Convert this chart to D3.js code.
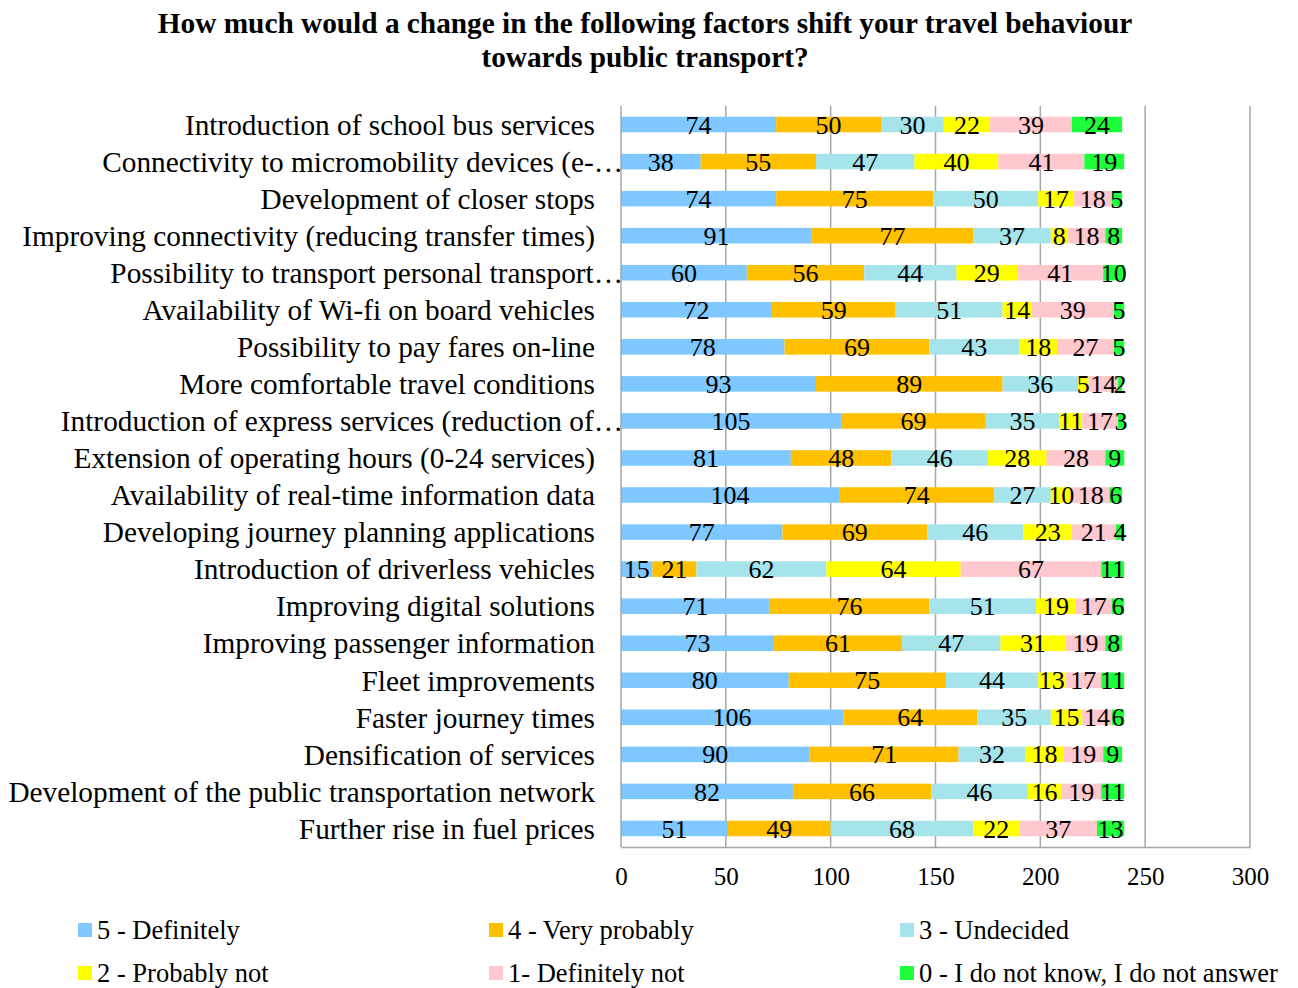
<!DOCTYPE html>
<html>
<head>
<meta charset="utf-8">
<script src="https://cdn.jsdelivr.net/npm/d3@7"></script>
<style>
  body { margin: 0; background: #fff; }
  text { font-family: "Liberation Serif", "Times New Roman", serif; }
</style>
</head>
<body>
<svg id="chart" width="1298" height="988"></svg>
<script>
const categories = [
  "Introduction of school bus services",
  "Connectivity to micromobility devices (e-…",
  "Development of closer stops",
  "Improving connectivity (reducing transfer times)",
  "Possibility to transport personal transport…",
  "Availability of Wi-fi on board vehicles",
  "Possibility to pay fares on-line",
  "More comfortable travel conditions",
  "Introduction of express services (reduction of…",
  "Extension of operating hours (0-24 services)",
  "Availability of real-time information data",
  "Developing journey planning applications",
  "Introduction of driverless vehicles",
  "Improving digital solutions",
  "Improving passenger information",
  "Fleet improvements",
  "Faster journey times",
  "Densification of services",
  "Development of the public transportation network",
  "Further rise in fuel prices"
];
const seriesNames = ["5 - Definitely", "4 - Very probably", "3 - Undecided", "2 - Probably not", "1- Definitely not", "0 - I do not know, I do not answer"];
const definitely    = [74, 38, 74, 91, 60, 72, 78, 93, 105, 81, 104, 77, 15, 71, 73, 80, 106, 90, 82, 51];
const veryProbably  = [50, 55, 75, 77, 56, 59, 69, 89, 69, 48, 74, 69, 21, 76, 61, 75, 64, 71, 66, 49];
const undecided     = [30, 47, 50, 37, 44, 51, 43, 36, 35, 46, 27, 46, 62, 51, 47, 44, 35, 32, 46, 68];
const probablyNot   = [22, 40, 17, 8, 29, 14, 18, 5, 11, 28, 10, 23, 64, 19, 31, 13, 15, 18, 16, 22];
const definitelyNot = [39, 41, 18, 18, 41, 39, 27, 14, 17, 28, 18, 21, 67, 17, 19, 17, 14, 19, 19, 37];
const dontKnow      = [24, 19, 5, 8, 10, 5, 5, 2, 3, 9, 6, 4, 11, 6, 8, 11, 6, 9, 11, 13];
const xTicks = [0, 50, 100, 150, 200, 250, 300];
const colors = ["#7FC8FF", "#FFC000", "#A6E4EC", "#FFFF00", "#FFC7CE", "#1EFF3C"];
const title = ["How much would a change in the following factors shift your travel behaviour", "towards public transport?"];

const seriesValues = [definitely, veryProbably, undecided, probablyNot, definitelyNot, dontKnow];
const keys = seriesNames.map((d, i) => "s" + i);
const rows = categories.map((c, i) => {
  const r = { cat: c };
  keys.forEach((k, j) => r[k] = seriesValues[j][i]);
  return r;
});

const svg = d3.select("#chart");
const margin = { left: 621, right: 48, top: 106, bottom: 141 };
const W = 1298, H = 988;

const x = d3.scaleLinear().domain([0, 300]).range([margin.left, W - margin.right]);
const y = d3.scaleBand().domain(categories).range([margin.top, H - margin.bottom]).paddingInner(0.58).paddingOuter(0.29);

// title
svg.append("g").selectAll("text").data(title).join("text")
  .attr("x", 645).attr("y", (d, i) => 33 + i * 34)
  .attr("text-anchor", "middle")
  .attr("font-weight", "bold").attr("font-size", 29.3)
  .text(d => d);

// gridlines
svg.append("g").selectAll("line").data(xTicks.slice(1)).join("line")
  .attr("x1", d => x(d)).attr("x2", d => x(d))
  .attr("y1", margin.top).attr("y2", H - margin.bottom)
  .attr("stroke", "#A6A6A6").attr("stroke-width", 1.5);

// stacked bars
const stack = d3.stack().keys(keys)(rows);
const groups = svg.append("g").selectAll("g").data(stack).join("g")
  .attr("fill", (d, i) => colors[i]);
groups.selectAll("rect").data(d => d).join("rect")
  .attr("x", d => x(d[0]))
  .attr("width", d => x(d[1]) - x(d[0]))
  .attr("y", d => y(d.data.cat))
  .attr("height", y.bandwidth());

// value labels
const lab = svg.append("g");
stack.forEach((s, i) => {
  lab.selectAll(null).data(s).join("text")
    .attr("x", d => (x(d[0]) + x(d[1])) / 2)
    .attr("y", d => y(d.data.cat) + y.bandwidth() / 2)
    .attr("dy", "0.35em")
    .attr("text-anchor", "middle")
    .attr("font-size", 26)
    .attr("fill", "#000")
    .text(d => d[1] - d[0]);
});

// left axis line
svg.append("line")
  .attr("x1", x(0)).attr("x2", x(0))
  .attr("y1", margin.top).attr("y2", H - margin.bottom)
  .attr("stroke", "#A6A6A6").attr("stroke-width", 1.5);
// bottom axis
const xAxis = d3.axisBottom(x).tickValues(xTicks).tickSize(0).tickPadding(20);
const ax = svg.append("g").attr("transform", `translate(0,${H - margin.bottom})`).call(xAxis);
ax.select(".domain").attr("stroke", "#A6A6A6").attr("stroke-width", 1.5);
ax.selectAll("text").attr("font-size", 25).attr("font-family", "Liberation Serif").attr("fill", "#000");

// category labels
svg.append("g").selectAll("text").data(categories).join("text")
  .attr("x", d => d.endsWith("…") ? 623 : 595)
  .attr("y", d => y(d) + y.bandwidth() / 2)
  .attr("dy", "0.35em")
  .attr("text-anchor", "end")
  .attr("font-size", 29.3)
  .attr("fill", "#000")
  .text(d => d);

// legend
const legendX = [78, 489, 900];
const leg = svg.append("g").selectAll("g").data(seriesNames).join("g")
  .attr("transform", (d, i) => `translate(${legendX[i % 3]},${930 + Math.floor(i / 3) * 43})`);
leg.append("rect").attr("x", 0).attr("y", -7).attr("width", 14).attr("height", 14)
  .attr("fill", (d, i) => colors[i]);
leg.append("text").attr("x", 19).attr("dy", "0.35em").attr("font-size", 26.5).attr("fill", "#000").text(d => d);
</script>
</body>
</html>
